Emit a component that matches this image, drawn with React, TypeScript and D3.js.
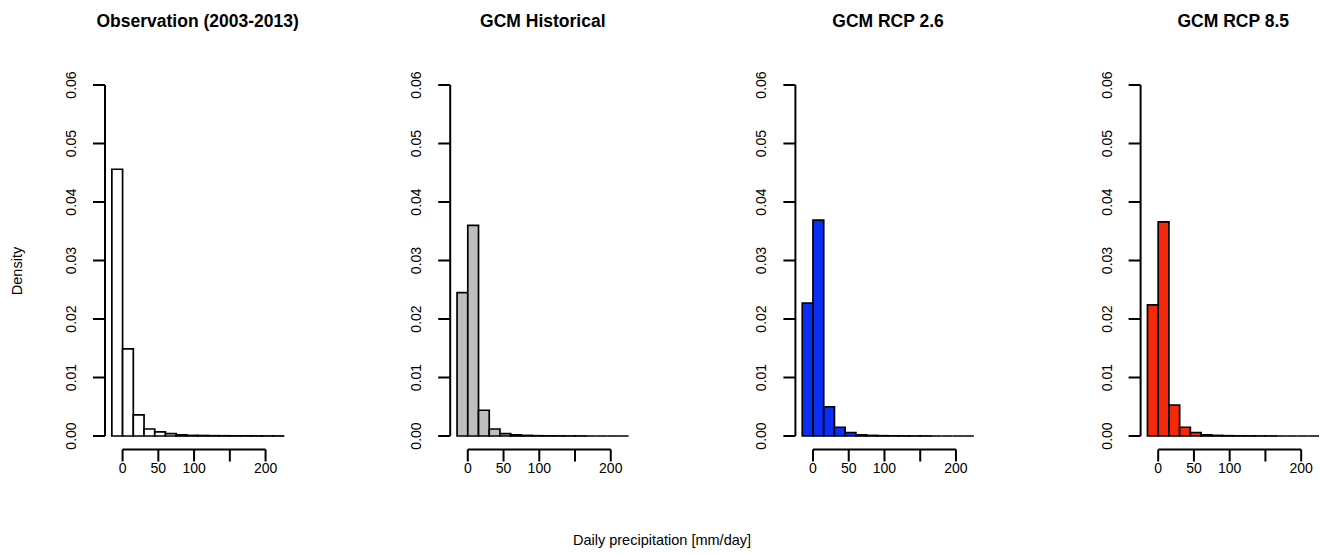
import React from 'react';
import * as d3 from 'd3';

// histogram bin edges (mm/day)
const binBreaks = [-15, 0, 15, 30, 45, 60, 75, 90, 105, 120, 135, 150, 165, 180, 195, 210, 225];

const panelTitles = ['Observation (2003-2013)', 'GCM Historical', 'GCM RCP 2.6', 'GCM RCP 8.5'];
const panelFills = ['#ffffff', '#bebebe', '#0a2ef5', '#f5290a'];

// density per bin
const observation = [0.0456, 0.0149, 0.0036, 0.0012, 0.0007, 0.0004, 0.0002, 0.0001, 0.00008, 0.00005, 0.00004, 0.00003, 0.00003, 0.00002, 0.00001, 0.00001];
const gcmHistorical = [0.0245, 0.036, 0.0044, 0.0012, 0.0004, 0.0002, 0.0001, 0.00005, 0.00003, 0.00002, 0.00001, 0.00001, 0, 0, 0, 0];
const gcmRcp26 = [0.0227, 0.0369, 0.005, 0.0015, 0.0006, 0.0002, 0.0001, 0.00005, 0.00003, 0.00002, 0.00001, 0.00001, 0, 0, 0, 0];
const gcmRcp85 = [0.0224, 0.0366, 0.0053, 0.0015, 0.0006, 0.0002, 0.0001, 0.00005, 0.00003, 0.00002, 0.00001, 0.00001, 0, 0, 0, 0];

const xTicks = [0, 50, 100, 150, 200];
const xTickLabels = ['0', '50', '100', '', '200'];
const yTicks = [0, 0.01, 0.02, 0.03, 0.04, 0.05, 0.06];
const yTickLabels = ['0.00', '0.01', '0.02', '0.03', '0.04', '0.05', '0.06'];

const series = [observation, gcmHistorical, gcmRcp26, gcmRcp85];

const width = 1324;
const height = 555;
const font = '"Liberation Sans", Arial, Helvetica, sans-serif';

const firstAxisX = 105;
const panelStep = 345.2;
const plotWidth = 185.3;
const xAxisY = 449.5;
const tickLen = 12;

const yScale = d3.scaleLinear().domain([0, 0.06]).range([436, 85]);

function Panel({ index }: { index: number }) {
  const left = firstAxisX + index * panelStep;
  const xScale = d3.scaleLinear().domain([-24.6, 234.6]).range([left, left + plotWidth]);
  const values = series[index];
  const bars = values.map((v, i) => ({ x0: binBreaks[i], x1: binBreaks[i + 1], v }));

  return (
    <g>
      <text
        x={left + plotWidth / 2}
        y={27}
        textAnchor="middle"
        fontFamily={font}
        fontWeight="bold"
        fontSize={17.5}
      >
        {panelTitles[index]}
      </text>

      {bars.map((b, i) => {
        const xa = xScale(b.x0);
        const xb = xScale(b.x1);
        const y0 = yScale(0);
        const y1 = yScale(b.v);
        return (
          <path
            key={i}
            d={`M${xa},${y0}V${y1}H${xb}V${y0}Z`}
            fill={panelFills[index]}
            stroke="#000"
            strokeWidth={1.7}
          />
        );
      })}

      {/* y axis */}
      <line
        x1={left}
        x2={left}
        y1={yScale(0)}
        y2={yScale(0.06)}
        stroke="#000"
        strokeWidth={2}
      />
      {yTicks.map((t, i) => (
        <g key={i}>
          <line x1={left - tickLen} x2={left} y1={yScale(t)} y2={yScale(t)} stroke="#000" strokeWidth={2} />
          <text
            transform={`translate(${left - 29},${yScale(t)}) rotate(-90)`}
            textAnchor="middle"
            fontFamily={font}
            fontSize={14}
          >
            {yTickLabels[i]}
          </text>
        </g>
      ))}

      {/* x axis */}
      <line
        x1={xScale(0)}
        x2={xScale(200)}
        y1={xAxisY}
        y2={xAxisY}
        stroke="#000"
        strokeWidth={2}
      />
      {xTicks.map((t, i) => (
        <g key={i}>
          <line x1={xScale(t)} x2={xScale(t)} y1={xAxisY} y2={xAxisY + tickLen} stroke="#000" strokeWidth={2} />
          <text x={xScale(t)} y={473} textAnchor="middle" fontFamily={font} fontSize={14}>
            {xTickLabels[i]}
          </text>
        </g>
      ))}
    </g>
  );
}

export default function App() {
  return (
    <svg
      width={width}
      height={height}
      style={{ position: 'absolute', left: 0, top: 0, background: '#fff' }}
    >
      <rect x={0} y={0} width={width} height={height} fill="#fff" />
      {panelTitles.map((_, i) => (
        <Panel key={i} index={i} />
      ))}
      <text
        transform="translate(22,271) rotate(-90)"
        textAnchor="middle"
        fontFamily={font}
        fontSize={14.5}
      >
        Density
      </text>
      <text x={662} y={545} textAnchor="middle" fontFamily={font} fontSize={14.5}>
        Daily precipitation [mm/day]
      </text>
    </svg>
  );
}
